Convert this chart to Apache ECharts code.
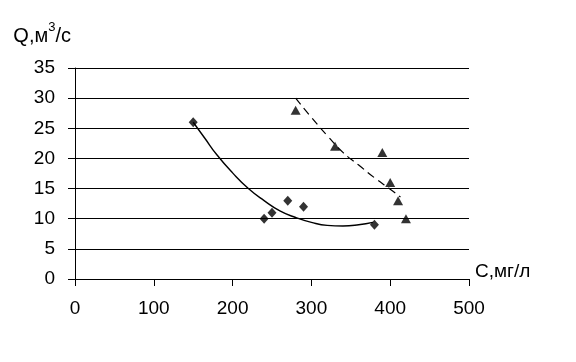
<!DOCTYPE html>
<html><head><meta charset="utf-8">
<script src="https://cdn.jsdelivr.net/npm/echarts@6/dist/echarts.min.js"></script>
<style>html,body{margin:0;padding:0;background:#fff}#c{width:576px;height:362px}</style>
</head><body><div id="c"></div>
<script>
// Measured points: diamonds (series 1)
const diamondC = [150, 240, 250, 270, 290, 380];
const diamondQ = [26, 10, 11, 13, 12, 9];
// Measured points: triangles (series 2)
const triangleC = [280, 330, 390, 400, 410, 420];
const triangleQ = [28, 22, 21, 16, 13, 10];
// Solid trend curve
const trend1C = [150, 165, 180, 200, 220, 240, 260, 280, 300, 320, 340, 360, 378];
const trend1Q = [26, 23.3, 20.6, 17.6, 15.0, 13.0, 11.3, 10.2, 9.4, 8.9, 8.8, 9.0, 9.4];
// Dashed trend curve
const trend2C = [280, 300, 320, 340, 360, 380, 400, 413];
const trend2Q = [30, 26.8, 23.8, 21, 18.9, 16.8, 14.9, 13.6];
// Axis ticks
const xTicks = [0, 100, 200, 300, 400, 500];
const yTicks = [0, 5, 10, 15, 20, 25, 30, 35];

const zip = (a, b) => a.map((v, i) => [v, b[i]]);
const font = 'Liberation Sans, Arial, sans-serif';
const chart = echarts.init(document.getElementById('c'), null, {renderer: 'canvas'});
chart.setOption({
  animation: false,
  backgroundColor: '#fff',
  grid: {left: 75, right: 107, top: 68, bottom: 83, containLabel: false},
  xAxis: {
    type: 'value', min: xTicks[0], max: xTicks[xTicks.length - 1], interval: 100,
    name: 'С,мг/л', nameLocation: 'end', nameGap: 6,
    nameTextStyle: {fontFamily: font, fontSize: 19, color: '#000', verticalAlign: 'bottom', padding: [0, 0, -2, 0]},
    axisLine: {show: true, lineStyle: {color: '#000', width: 1}},
    axisTick: {show: true, length: 7, lineStyle: {color: '#000'}},
    axisLabel: {fontFamily: font, fontSize: 19, color: '#000', margin: 20},
    splitLine: {show: false}
  },
  yAxis: {
    type: 'value', min: yTicks[0], max: yTicks[yTicks.length - 1], interval: 5,
    name: '{q|Q,м}{s|3}{q|/с}', nameLocation: 'end', nameGap: 22,
    nameTextStyle: {align: 'right', padding: [0, 4, 0, 0],
      rich: {q: {fontFamily: font, fontSize: 20, color: '#000', verticalAlign: 'bottom'},
             s: {fontFamily: font, fontSize: 13, color: '#000', verticalAlign: 'top', padding: [0, 0, 12, 0]}}},
    axisLine: {show: true, lineStyle: {color: '#000', width: 1}},
    axisTick: {show: true, length: 7, lineStyle: {color: '#000'}},
    axisLabel: {fontFamily: font, fontSize: 19, color: '#000', margin: 20},
    splitLine: {show: true, lineStyle: {color: '#000', width: 1}}
  },
  series: [
    {type: 'line', data: zip(trend1C, trend1Q), smooth: true, showSymbol: false, symbol: 'none',
     lineStyle: {color: '#000', width: 1.4}, z: 2},
    {type: 'line', data: zip(trend2C, trend2Q), smooth: true, showSymbol: false, symbol: 'none',
     lineStyle: {color: '#000', width: 1.2, type: [8, 5]}, z: 2},
    {type: 'scatter', data: zip(diamondC, diamondQ), symbol: 'diamond', symbolSize: [9, 10],
     itemStyle: {color: '#000'}, z: 3},
    {type: 'scatter', data: zip(triangleC, triangleQ), symbol: 'triangle', symbolSize: [10, 9],
     itemStyle: {color: '#000'}, z: 3}
  ]
});
</script></body></html>
